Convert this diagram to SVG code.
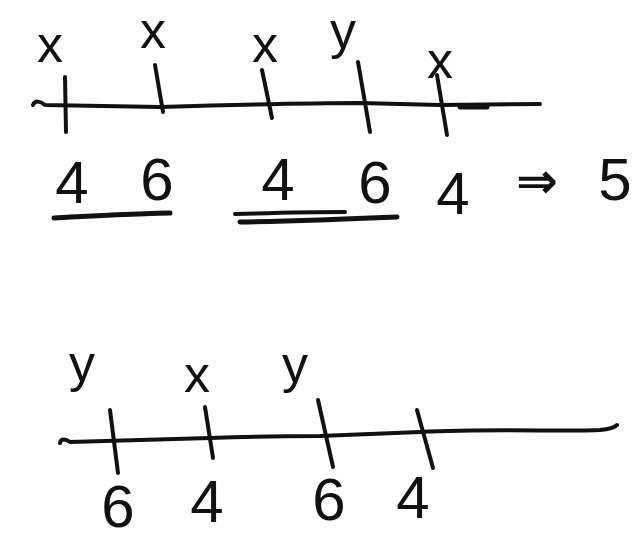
<svg xmlns="http://www.w3.org/2000/svg" width="637" height="540" viewBox="0 0 637 540">
<style>
.ink{fill:none;stroke:#111;stroke-width:4;stroke-linecap:round;stroke-linejoin:round}
.thick{stroke-width:5}
.let{font-family:"Liberation Sans",Arial,sans-serif;font-size:52px;fill:#111;text-anchor:middle}
.dig{font-family:"Liberation Sans",Arial,sans-serif;font-size:60px;fill:#111;text-anchor:middle}
.arr{font-family:"DejaVu Sans",sans-serif;font-size:50px;font-weight:bold;fill:#111;text-anchor:middle}
</style>
<rect width="637" height="540" fill="#fefefe"/>
<g id="line1">
  <g id="axis1">
    <path class="ink" d="M33,105 C35,100 40,101 45,105 L160,107 C230,105 300,103 360,103 L440,105 L540,104"/>
    <path class="ink thick" d="M460,107 L487,107"/>
  </g>
  <g id="ticks1">
    <path class="ink" d="M65,77 L66,132"/>
    <path class="ink" d="M155,65 L163,112"/>
    <path class="ink" d="M262,70 L272,118"/>
    <path class="ink" d="M358,62 L370,132"/>
    <path class="ink" d="M437,75 L447,135"/>
  </g>
  <g id="labels1">
    <text class="let" x="50" y="62">x</text>
    <text class="let" x="153" y="48">x</text>
    <text class="let" x="265" y="62">x</text>
    <text class="let" x="343" y="48">y</text>
    <text class="let" x="440" y="78">x</text>
  </g>
  <g id="values1">
    <text class="dig" x="72" y="203">4</text>
    <text class="dig" x="157" y="200">6</text>
    <text class="dig" x="278" y="200">4</text>
    <text class="dig" x="375" y="203">6</text>
    <text class="dig" x="453" y="214">4</text>
    <text class="arr" x="537" y="198">⇒</text>
    <text class="dig" x="615" y="200">5</text>
  </g>
  <g id="underlines">
    <path class="ink thick" d="M54,218 C90,216 130,214 170,213"/>
    <path class="ink" d="M235,214 C270,213 310,212 345,212"/>
    <path class="ink thick" d="M240,222 C300,221 350,219 397,217"/>
  </g>
</g>
<g id="line2">
  <g id="axis2">
    <path class="ink" d="M60,443 C61,438 66,439 70,442 L210,438 C260,436 300,436 320,436 L420,432 C500,428 560,432 600,430 C610,429 615,427 617,425"/>
  </g>
  <g id="ticks2">
    <path class="ink" d="M110,410 L118,473"/>
    <path class="ink" d="M205,407 L213,458"/>
    <path class="ink" d="M318,400 L333,467"/>
    <path class="ink" d="M417,410 L433,468"/>
  </g>
  <g id="labels2">
    <text class="let" x="82" y="381">y</text>
    <text class="let" x="197" y="392">x</text>
    <text class="let" x="295" y="382">y</text>
  </g>
  <g id="values2">
    <text class="dig" x="118" y="527">6</text>
    <text class="dig" x="207" y="522">4</text>
    <text class="dig" x="329" y="520">6</text>
    <text class="dig" x="413" y="518">4</text>
  </g>
</g>
</svg>
